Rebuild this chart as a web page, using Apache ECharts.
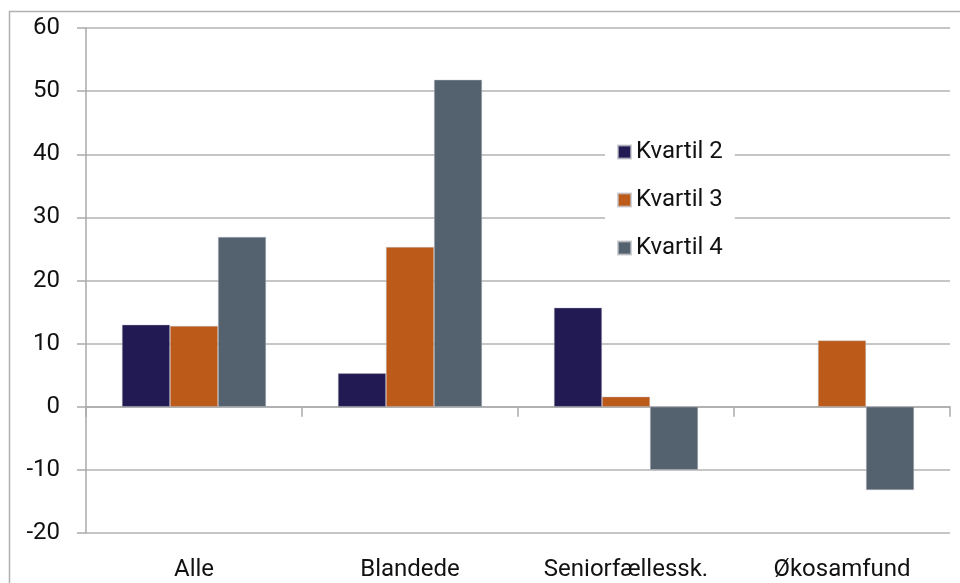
<!DOCTYPE html>
<html>
<head>
<meta charset="utf-8">
<script src="https://cdn.jsdelivr.net/npm/echarts@6/dist/echarts.min.js"></script>
<style>
html,body{margin:0;padding:0;background:#fff;}
#c{width:960px;height:583px;}
</style>
</head>
<body>
<div id="c"></div>
<script>
const categories = ['Alle', 'Blandede', 'Seniorfællessk.', 'Økosamfund'];
const seriesNames = ['Kvartil 2', 'Kvartil 3', 'Kvartil 4'];
const kvartil2 = [13.0, 5.3, 15.7, null];
const kvartil3 = [12.8, 25.3, 1.6, 10.5];
const kvartil4 = [26.9, 51.8, -10.0, -13.2];
const yTicks = [-20, -10, 0, 10, 20, 30, 40, 50, 60];

const colors = ['#221a52', '#bc5a1a', '#54626f'];
const font = 'Roboto, "DejaVu Sans", sans-serif';
const fs = 24;

const chart = echarts.init(document.getElementById('c'), null, {renderer: 'canvas'});
const mk = (name, data, color) => ({
  name: name,
  type: 'bar',
  data: data,
  barGap: '0%',
  barCategoryGap: '33.3%',
  itemStyle: {color: color, borderColor: 'rgba(190,190,200,0.7)', borderWidth: 0.6},
  xAxisIndex: 0
});
chart.setOption({
  animation: false,
  backgroundColor: '#fff',
  color: colors,
  graphic: [{
    type: 'polyline',
    shape: {points: [[9.5, 583], [9.5, 11.5], [960, 11.5]]},
    style: {stroke: '#b0b0b0', lineWidth: 1.5, fill: null},
    silent: true
  }],
  grid: {left: 86, right: 10, top: 28, bottom: 50, containLabel: false},
  legend: {
    orient: 'vertical',
    left: 605,
    top: 132,
    padding: [8, 12, 8, 12],
    backgroundColor: '#fff',
    itemWidth: 13,
    itemHeight: 13,
    itemGap: 24,
    icon: 'rect',
    data: seriesNames,
    textStyle: {fontFamily: font, fontSize: fs, color: '#111'}
  },
  xAxis: [{
    type: 'category',
    data: categories,
    axisLine: {onZero: true, lineStyle: {color: '#aaaaaa', width: 1.5}},
    axisTick: {show: true, length: 10, lineStyle: {color: '#aaaaaa', width: 1.5}},
    axisLabel: {show: false},
    splitLine: {show: false}
  }, {
    type: 'category',
    data: categories,
    position: 'bottom',
    axisLine: {show: false, onZero: false},
    axisTick: {show: false},
    axisLabel: {show: true, margin: 25, fontFamily: font, fontSize: fs, color: '#111'},
    splitLine: {show: false}
  }],
  yAxis: {
    type: 'value',
    min: yTicks[0],
    max: yTicks[yTicks.length - 1],
    interval: 10,
    axisLine: {show: true, lineStyle: {color: '#aaaaaa', width: 1.5}},
    axisTick: {show: true, length: 9, lineStyle: {color: '#aaaaaa', width: 1.5}},
    axisLabel: {margin: 26, fontFamily: font, fontSize: fs, color: '#111'},
    splitLine: {show: true, lineStyle: {color: '#b3b3b3', width: 1.5}}
  },
  series: [
    mk(seriesNames[0], kvartil2, colors[0]),
    mk(seriesNames[1], kvartil3, colors[1]),
    mk(seriesNames[2], kvartil4, colors[2])
  ]
});
</script>
</body>
</html>
